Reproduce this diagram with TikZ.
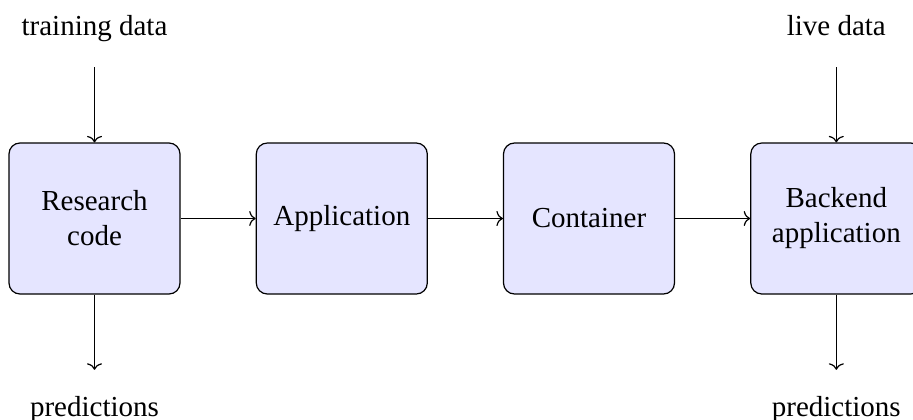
\documentclass[tikz,border=0pt]{standalone}
\usepackage{fontspec}
\setmainfont{Liberation Serif}
\usetikzlibrary{arrows.meta}
\begin{document}
\begin{tikzpicture}[x=1pt,y=-1pt,
  stage/.style={draw=black, fill=blue!10, rounded corners=11pt, line width=1.2pt,
    minimum width=171pt, minimum height=151pt, align=center, inner sep=0pt,
    font=\fontsize{29}{35}\selectfont},
  lbl/.style={anchor=base, inner sep=0pt, text height=20pt, text depth=7pt,
    font=\fontsize{29}{35}\selectfont},
  flow/.style={-{To[length=6.5pt,width=15pt]}, line width=1.2pt}]
\useasboundingbox (0,0) rectangle (913,420);
\node[stage] (rc) at (94.5,218.5) {Research\\code};
\node[stage] (app) at (341.8,218.5) {Application};
\node[stage] (cont) at (589,218.5) {Container};
\node[stage] (be) at (836.3,218.5) {Backend\\application};
\node[lbl] (td) at (94.5,36) {training data};
\node[lbl] (ld) at (836.3,36) {live data};
\node[lbl] (p1) at (94.5,416) {predictions};
\node[lbl] (p2) at (836.3,416) {predictions};
\draw[flow] (rc) -- (app);
\draw[flow] (app) -- (cont);
\draw[flow] (cont) -- (be);
\draw[flow, shorten <=24pt] (td.south) -- (rc.north);
\draw[flow, shorten <=24pt] (ld.south) -- (be.north);
\draw[flow, shorten >=26pt] (rc.south) -- (p1.north);
\draw[flow, shorten >=26pt] (be.south) -- (p2.north);
\end{tikzpicture}
\end{document}
